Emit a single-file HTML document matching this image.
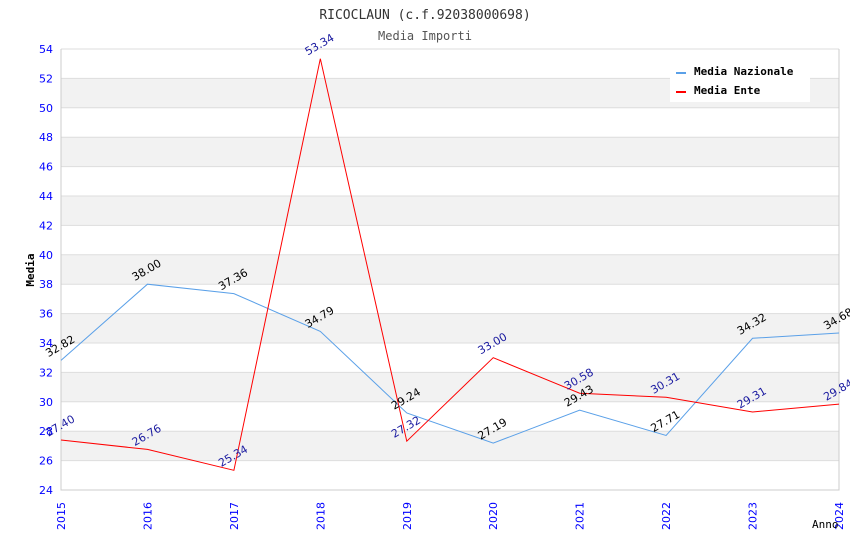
<!DOCTYPE html>
<html><head><meta charset="utf-8"><style>
body{margin:0;background:#fff;}
svg{display:block;}
</style></head><body>
<svg id="chart" width="850" height="550" xmlns="http://www.w3.org/2000/svg">
<text x="425" y="19" text-anchor="middle" font-family="DejaVu Sans Mono, Liberation Mono, monospace" font-size="13" fill="#333">RICOCLAUN (c.f.92038000698)</text>
<text x="425" y="40" text-anchor="middle" font-family="DejaVu Sans Mono, Liberation Mono, monospace" font-size="12" fill="#555">Media Importi</text>
<g id="bands"></g>
<g id="grid"></g>
<g id="axes"></g>
<g id="series"></g>
<g id="labels"></g>
<text transform="translate(34,270) rotate(-90)" text-anchor="middle" font-family="DejaVu Sans Mono, Liberation Mono, monospace" font-size="11" font-weight="bold" fill="#000">Media</text>
<text x="812" y="528" font-family="DejaVu Sans Mono, Liberation Mono, monospace" font-size="11" fill="#000">Anno</text>
<g>
<rect x="670" y="60" width="140" height="42" fill="#fff"/>
<g>
<rect x="676" y="72" width="10" height="2" fill="#5aa0e8"/>
<text x="694" y="75" font-family="DejaVu Sans Mono, Liberation Mono, monospace" font-size="11" font-weight="bold" fill="#000">Media Nazionale</text>
</g>
<g>
<rect x="676" y="91" width="10" height="2" fill="#ff0000"/>
<text x="694" y="94" font-family="DejaVu Sans Mono, Liberation Mono, monospace" font-size="11" font-weight="bold" fill="#000">Media Ente</text>
</g>
</g>
</svg>
<script>
const years = [2015,2016,2017,2018,2019,2020,2021,2022,2023,2024];
const nazionale = [32.82,38.00,37.36,34.79,29.24,27.19,29.43,27.71,34.32,34.68];
const ente = [27.40,26.76,25.34,53.34,27.32,33.00,30.58,30.31,29.31,29.84];
const yTicks = [24,26,28,30,32,34,36,38,40,42,44,46,48,50,52,54];

const NS='http://www.w3.org/2000/svg';
const X0=61,X1=839,Y0=490,Y1=49,YMIN=24,YMAX=54;
function xs(i){return X0+(X1-X0)*i/(years.length-1);}
function ys(v){return Y0-(v-YMIN)/(YMAX-YMIN)*(Y0-Y1);}
function mk(tag,attrs,parent){const e=document.createElementNS(NS,tag);for(const k in attrs)e.setAttribute(k,attrs[k]);document.getElementById(parent).appendChild(e);return e;}

for(let i=0;i<yTicks.length-1;i++){
  if(i%2===1){
    const r=mk('rect',{x:X0,y:ys(yTicks[i+1]),width:X1-X0,height:ys(yTicks[i])-ys(yTicks[i+1]),fill:'#f2f2f2'},'bands');
    
    
  }
}
yTicks.forEach(t=>{
  const l=mk('line',{x1:X0,x2:X1,y1:ys(t),y2:ys(t),stroke:'#ddd','stroke-width':1},'grid');
  
  
  const tx=mk('text',{x:X0-8,y:ys(t)+4,'text-anchor':'end','font-family':'DejaVu Sans, Liberation Sans, sans-serif','font-size':11,fill:'#0000ff'},'axes');
  tx.textContent=t;
  
  
});
const ax=mk('path',{d:`M${X0},${Y1}V${Y0}H${X1}V${Y1}`,fill:'none',stroke:'#ccc'},'axes');


years.forEach((y,i)=>{
  const tx=mk('text',{transform:`translate(${xs(i)+4},${Y0+40}) rotate(-90)`,'font-family':'DejaVu Sans, Liberation Sans, sans-serif','font-size':11,fill:'#0000ff'},'axes');
  tx.textContent=y;
  
  
});
function series(vals,color,labelColor,name){
  const p=mk('polyline',{points:vals.map((v,i)=>xs(i)+','+ys(v)).join(' '),fill:'none',stroke:color,'stroke-width':1},'series');
  
  
  vals.forEach((v,i)=>{
    const t=mk('text',{transform:`translate(${xs(i)+1},${ys(v)-11}) rotate(-30)`,'text-anchor':'middle','font-family':'DejaVu Sans, Liberation Sans, sans-serif','font-size':11,fill:labelColor},'labels');
    t.textContent=v.toFixed(2);
    
    
  });
}
series(nazionale,'#5aa0e8','#000','media-nazionale');
series(ente,'#ff0000','#1a1aa0','media-ente');
</script>
</body></html>
